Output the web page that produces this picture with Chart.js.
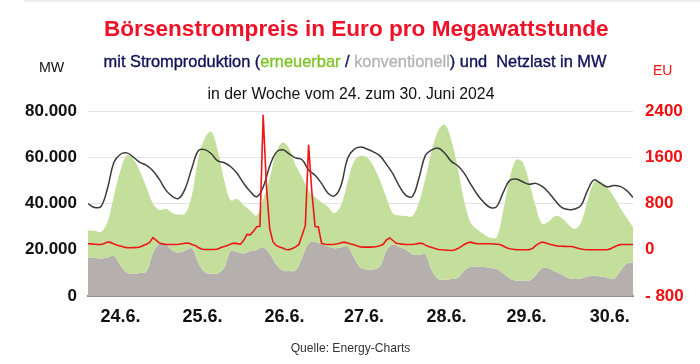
<!DOCTYPE html>
<html lang="de">
<head>
<meta charset="utf-8">
<title>Börsenstrompreis</title>
<script src="https://cdn.jsdelivr.net/npm/chart.js@4.4.1/dist/chart.umd.min.js"></script>
<style>
  html, body { margin: 0; padding: 0; background: #ffffff; }
  #wrap { position: relative; width: 700px; height: 364px; overflow: hidden; font-family: "Liberation Sans", Arial, sans-serif; }
  #c { position: absolute; left: 0; top: 0; }
  .t { position: absolute; white-space: nowrap; line-height: 1; }
  #topline { position: absolute; left: 24px; top: 0; width: 676px; height: 2px; background: #ececec; }
  #title { left: 104px; top: 17.6px; font-size: 22.6px; font-weight: bold; color: #ee1128; }
  #sub { left: 103.6px; top: 53.4px; font-size: 16.4px; color: #10105a; -webkit-text-stroke: 0.35px #10105a; }
  #sub .g { color: #7ec424; -webkit-text-stroke: 0.35px #7ec424; }
  #sub .k { color: #b4b4b4; -webkit-text-stroke: 0.35px #b4b4b4; }
  #week { left: 207.6px; top: 85.6px; font-size: 15.8px; color: #111111; }
  #mw { left: 39px; top: 59.3px; font-size: 15px; color: #111111; transform-origin: 0 0; transform: scaleX(0.95); }
  #eu { left: 652.7px; top: 62.3px; font-size: 15px; color: #ee1111; transform-origin: 0 0; transform: scaleX(0.93); }
  #src { left: 290.7px; top: 342.3px; font-size: 12.1px; color: #333333; }
</style>
</head>
<body>
<div id="wrap">
  <canvas id="c" width="700" height="364"></canvas>
  <div id="topline"></div>
  <div class="t" id="title">Börsenstrompreis in Euro pro Megawattstunde</div>
  <div class="t" id="sub">mit Stromproduktion (<span class="g">erneuerbar</span> / <span class="k">konventionell</span>) und&nbsp; Netzlast in MW</div>
  <div class="t" id="week">in der Woche vom 24. zum 30. Juni 2024</div>
  <div class="t" id="mw">MW</div>
  <div class="t" id="eu">EU</div>
  <div class="t" id="src">Quelle: Energy-Charts</div>
</div>
<script>
// ---- data ----
// 2-hourly values from 24.6. 00:00 to 1.7. 00:00 (85 points)
const conventional = [16800,16500,16200,16700,17300,13200,10200,9600,10000,10600,18400,22700,22300,19700,18800,19700,20600,14500,10300,9700,9700,12300,19500,19000,18400,19300,19900,21000,18400,13600,11000,10800,11000,16700,22700,23400,22500,21400,20600,21000,21400,16700,12300,11500,11500,12800,19700,22300,21200,20100,18000,17700,18000,11000,7400,7000,7400,7800,11000,12600,12600,12500,12100,11700,9700,7600,6700,6700,6700,8900,12100,11900,10600,9300,7800,7400,7600,8400,8900,8400,8000,7400,10600,13900,14600];
const renewable = [11600,11700,11500,15200,26200,41100,50600,49500,43900,36400,21600,14500,15400,16200,16400,16000,22900,45000,57900,61300,53200,37700,21900,23000,20800,17700,14900,20800,32500,48500,55400,53000,45500,34600,22900,19300,18000,17100,15200,18200,27700,41600,48300,48500,44600,37200,22900,13400,13600,14500,16500,22700,32900,51900,64300,67200,60000,47400,29900,19000,16200,14200,13100,13800,27300,43300,52200,51100,42400,29900,19100,20300,24000,24500,23200,21600,24200,32900,40300,41100,39000,35700,27700,20100,15200];
const netLoad = [39900,38300,38700,46500,57800,61300,61900,60000,57800,56500,54200,50400,45800,43100,42200,46600,55200,62800,63300,61500,58400,57600,55900,53000,48700,45200,42900,47100,56100,62100,63200,61500,59700,58900,54500,52200,48700,44400,43300,47800,59500,63400,64400,63600,62300,60600,56900,52800,47400,43500,43100,50900,60800,63200,63900,61700,58200,56300,53000,48300,43900,40500,38300,38700,44800,50000,50600,49400,48300,48700,47400,44800,41300,38300,37400,37600,39200,45700,50200,48700,47200,47800,47400,45700,42600];
// hourly exchange price in EUR/MWh (169 points)
const price = [
  104,101,96,92,92,110,132,127,101,78,64,49,37,35,37,40,49,75,96,127,210,165,115,101,
  92,92,92,92,96,104,113,115,92,75,40,14,5,5,5,5,14,40,57,75,101,115,106,96,
  162,266,257,318,397,405,2335,1100,370,140,75,49,31,5,0,23,49,92,250,420,1814,1000,400,396,
  110,95,92,92,95,105,122,132,115,98,85,65,50,45,45,45,47,55,68,95,170,205,160,112,
  105,97,92,90,92,100,110,113,80,55,38,20,5,0,-3,-8,-12,-5,20,55,90,120,132,115,
  104,104,104,104,104,100,96,92,65,35,17,8,2,0,0,0,0,20,70,110,132,120,98,85,
  72,63,60,58,57,57,45,25,12,5,0,0,0,0,0,0,0,15,45,70,88,92,92,92,
  92];
const dayLabels = ['24.6.', '25.6.', '26.6.', '27.6.', '28.6.', '29.6.', '30.6.'];
const leftTicks = [0, 20000, 40000, 60000, 80000];
const rightTicks = [-800, 0, 800, 1600, 2400];

// ---- build datasets ----
const STEP = 2;
const convPts = conventional.map((v, i) => ({ x: i * STEP, y: v }));
const totalPts = renewable.map((v, i) => ({ x: i * STEP, y: v + conventional[i] }));
const loadPts = netLoad.map((v, i) => ({ x: i * STEP, y: v }));
const pricePts = price.map((v, i) => ({ x: i, y: v }));
const labelHours = [10, 35.3, 60.6, 85.1, 110.5, 135.2, 160.8];

const fmtDE = v => String(Math.abs(v)).replace(/\B(?=(\d{3})+(?!\d))/g, '.');
const FONT = '"Liberation Sans", Arial, sans-serif';

new Chart(document.getElementById('c'), {
  type: 'line',
  data: {
    datasets: [
      { label: 'konventionell', data: convPts, yAxisID: 'y', fill: 'origin', backgroundColor: '#b5b0ad', borderWidth: 0, pointRadius: 0, tension: 0.35, order: 3 },
      { label: 'erneuerbar', data: totalPts, yAxisID: 'y', fill: '-1', backgroundColor: '#c4df9b', borderWidth: 0, pointRadius: 0, tension: 0.35, order: 2 },
      { label: 'Netzlast', data: loadPts, yAxisID: 'y', fill: false, borderColor: '#3a3a3a', borderWidth: 1.5, pointRadius: 0, tension: 0.4, order: 1 },
      { label: 'Preis', data: pricePts, yAxisID: 'y1', fill: false, borderColor: '#f01616', borderWidth: 1.6, pointRadius: 0, tension: 0, order: 0 }
    ]
  },
  options: {
    responsive: false,
    animation: false,
    events: [],
    layout: { padding: { top: 111, left: 0, right: 0, bottom: 0 } },
    plugins: { legend: { display: false }, tooltip: { enabled: false }, title: { display: false } },
    scales: {
      x: {
        type: 'linear', min: 0, max: 168,
        grid: { display: false, drawTicks: false },
        border: { display: true, color: '#8f8f8f', width: 2 },
        ticks: {
          autoSkip: false, maxRotation: 0, padding: 10,
          color: '#111111', font: { family: FONT, size: 18, weight: 'bold' },
          callback: (v, i) => dayLabels[i]
        },
        afterBuildTicks: s => { s.ticks = labelHours.map(h => ({ value: h })); },
        afterFit: s => { s.height = 68; }
      },
      y: {
        position: 'left', min: 0, max: 80000,
        grid: { color: '#e4e4e4', lineWidth: 1, drawTicks: false },
        border: { display: false },
        ticks: {
          padding: 11, color: '#111111', font: { family: FONT, size: 17, weight: 'bold' },
          callback: v => fmtDE(v)
        },
        afterBuildTicks: s => { s.ticks = leftTicks.map(v => ({ value: v })); },
        afterFit: s => { s.width = 88; }
      },
      y1: {
        position: 'right', min: -800, max: 2400,
        grid: { display: false, drawTicks: false },
        border: { display: false },
        ticks: {
          padding: 12, color: '#ee1111', font: { family: FONT, size: 17, weight: 'bold' },
          callback: v => (v < 0 ? '- ' + Math.abs(v) : String(v))
        },
        afterBuildTicks: s => { s.ticks = rightTicks.map(v => ({ value: v })); },
        afterFit: s => { s.width = 67; }
      }
    }
  }
});
</script>
</body>
</html>
